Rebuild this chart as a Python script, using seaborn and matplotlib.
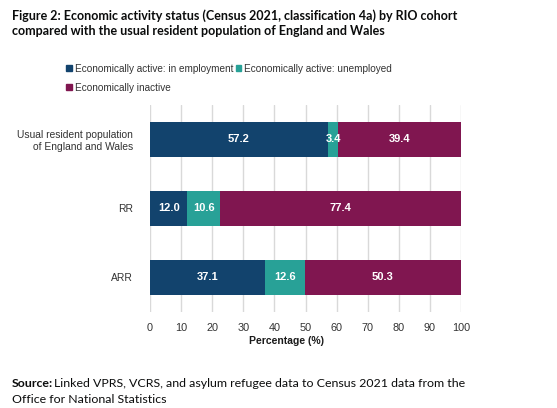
import matplotlib
matplotlib.use('Agg')
import matplotlib.pyplot as plt
from matplotlib.patches import Patch
import seaborn as sns
import pandas as pd

# Data
cohorts = ['Usual resident population\nof England and Wales', 'RR', 'ARR']
employed = [57.2, 12.0, 37.1]
unemployed = [3.4, 10.6, 12.6]
inactive = [39.4, 77.4, 50.3]
series = ['Economically active: in employment', 'Economically active: unemployed', 'Economically inactive']
colors = ['#12436D', '#28A197', '#801650']

df = pd.DataFrame({'cohort': cohorts, 'employed': employed,
                   'unemployed': unemployed, 'inactive': inactive})
df['cum1'] = df['employed']
df['cum2'] = df['employed'] + df['unemployed']
df['cum3'] = df['cum2'] + df['inactive']

sns.set_style('white')
plt.rcParams['font.family'] = ['Liberation Sans', 'DejaVu Sans']

fig = plt.figure(figsize=(5.57, 4.08), dpi=100)
ax = fig.add_axes([0.2693, 0.2353, 0.5584, 0.5074])

# stacked bars drawn as layered cumulative bars
for col, c in zip(['cum3', 'cum2', 'cum1'], colors[::-1]):
    sns.barplot(data=df, x=col, y='cohort', color=c, width=0.52,
                saturation=1, linewidth=0, ax=ax, zorder=3)

# segment labels
for i in range(len(cohorts)):
    lefts = [0, df['cum1'][i], df['cum2'][i]]
    vals = [employed[i], unemployed[i], inactive[i]]
    for l, v in zip(lefts, vals):
        ax.text(l + v / 2, i, f'{v:.1f}', ha='center', va='center',
                color='white', fontweight='bold', fontsize=8, zorder=4)

ax.set_xlim(0, 100)
ax.set_ylim(2.5, -0.5)
ax.set_xticks(range(0, 101, 10))
ax.grid(axis='x', color='#d9d9d9', linewidth=1, zorder=0)
ax.set_axisbelow(True)
for s in ax.spines.values():
    s.set_visible(False)
ax.tick_params(length=0, labelsize=7.8, labelcolor='#333333')
ax.tick_params(axis='y', labelsize=7.4, pad=12)
ax.tick_params(axis='x', pad=8)
ax.set_ylabel('')
ax.set_xlabel('Percentage (%)', fontsize=7.5, fontweight='bold', color='#1a1a1a', va='center')
ax.xaxis.set_label_coords(0.44, -0.14)

# Title
fig.text(0.0215, 0.978, 'Figure 2: Economic activity status (Census 2021, classification 4a) by RIO cohort\ncompared with the usual resident population of England and Wales',
         fontsize=9, fontweight='bold', family='Lato', va='top', ha='left', linespacing=1.38, color='#0b0c0c')

# Legend
handles = [Patch(color=colors[0], label=series[0]),
           Patch(color=colors[2], label=series[2]),
           Patch(color=colors[1], label=series[1])]
fig.legend(handles=handles, loc='upper left', bbox_to_anchor=(0.112, 0.854),
           ncol=2, frameon=False, fontsize=7.2, handlelength=0.55, handleheight=0.55,
           handletextpad=0.3, columnspacing=0.25, labelspacing=0.9,
           labelcolor='#333333', borderaxespad=0)

# Source
fig.text(0.0215, 0.052, 'Source:', fontsize=8.9, fontweight='bold', family='Lato', va='baseline', color='#0b0c0c')
fig.text(0.0215 + 0.075, 0.052, 'Linked VPRS, VCRS, and asylum refugee data to Census 2021 data from the',
         fontsize=8.9, family='Lato', va='baseline', color='#0b0c0c')
fig.text(0.0215, 0.013, 'Office for National Statistics', fontsize=8.9, family='Lato', va='baseline', color='#0b0c0c')

plt.savefig('out.png', dpi=100)
